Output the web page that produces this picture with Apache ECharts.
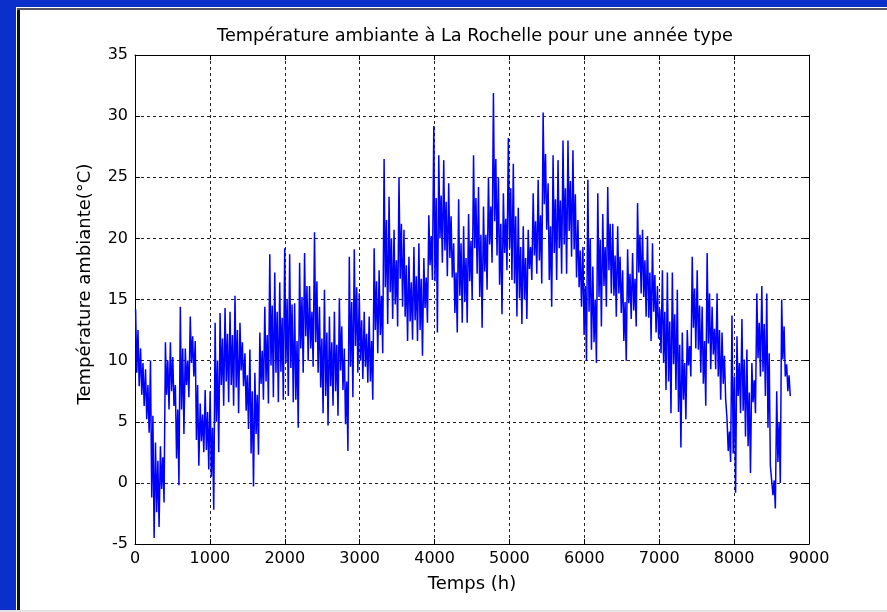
<!DOCTYPE html>
<html>
<head>
<meta charset="utf-8">
<script src="https://cdn.jsdelivr.net/npm/echarts@6/dist/echarts.min.js"></script>
<style>
html,body{margin:0;padding:0;background:#fff;}
#chart{width:887px;height:612px;}
</style>
</head>
<body>
<div id="chart"></div>
<script>
// Read per ~66 h window: extreme high, extreme low, and a secondary high/low inside the window
const hiA = [14.2,11,9.3,10,3.3,3,11.5,11.5,8,14.4,11,13.6,11.6,6.5,7.6,7.5,13.1,13.9,14.3,14,15.3,13.1,10.6,10.9,9,12.3,14.4,18.7,17.2,16.4,19.2,18.7,14.7,18,18.8,16.1,20.5,14.4,15.8,13.6,14,15.1,11,18.5,19.1,15.5,14,13.6,19.2,17.4,26.5,23.4,20.7,25,20.7,18.5,19.3,19.6,18.4,21.9,29.2,26.8,26.4,24.5,19.6,23.2,21,22,26.8,24.2,22.6,25,31.9,25,23.7,28.2,26.1,22.5,21,20.7,23.7,24.8,30.3,24.5,26.8,26.4,28,28,27.2,21.5,19.3,24.8,17.7,23.7,22,24.2,21.2,21,17.4,19.1,18.8,22.9,20.7,20.2,19.6,16.1,17.4,17.2,17.2,15.8,12.3,12.5,18.5,17.4,14.4,18.8,14.4,15.5,12.3,5.2,13.7,12,13.4,10.9,9.8,15.5,16.1,15.5,1.4,7.5,15,9.7];
const loA = [7.9,6.3,4.1,-4.5,-3.6,-1.6,6,6.3,-0.2,4,7,8.7,1.4,2.5,1.1,-2.2,2.5,6.3,6.6,6.3,5.7,7.9,4.4,-0.3,2.3,6.8,6.5,7,6.6,6.8,7.1,6.6,4.5,9,10,9.5,9,5.7,4.7,6.3,5.5,7.6,2.6,7,9,8.5,8.2,6.8,10.6,10.6,13,13.4,12.8,14.4,11.6,11.7,11.6,10.4,13.1,16.6,12.3,18,16.9,16.8,12.3,13.1,13.1,15,17.1,12.7,15.8,18,18.6,13.8,17.4,16.6,13.6,13,13.4,16.6,17.1,16.3,20.7,14.4,16.6,17.1,17.1,18.5,16.8,14.4,10,10.9,9.8,12.8,14.4,15.5,13.6,13.9,10,13.4,12.8,15.5,13.6,11.6,12.3,10.6,7.6,5.7,7.6,2.9,5.2,8.7,11,9,6.3,9.3,9.3,6.8,6.9,1.7,-0.8,5.7,3.8,0.8,5.7,8.7,7.1,1.4,-2.1,0,8.7,7.1];
const hiB = [12.5,9.8,8,5.5,1.8,2.1,10,10.3,6,11,10,12,8,5.6,5.8,4.5,10,11.8,12.2,12.1,12.5,11.5,8.8,7.5,7.2,10.8,12.1,14.5,14,13.5,15,14.6,11.6,15.2,16.1,14,16.5,11.8,12.3,11.5,11.3,12.8,8.3,14.8,16,13.3,12.2,11.6,16.5,15.3,21.5,20,18.2,21.2,17.8,16.4,16.9,16.7,16.8,20.2,23.3,23.5,23,21.8,17.2,19.6,18.4,19.8,23.3,20.3,20.3,22.6,26.5,21.2,21.6,24.1,21.8,19.3,18.4,19.3,21.4,21.9,26.9,21,23.2,23.1,24.1,24.7,23.6,19,16.1,20,15,19.9,19.3,21.2,18.6,18.5,14.8,17.1,16.7,20.3,18.2,17.2,17,14.2,14,13.2,13.8,11.3,9.8,11.2,15.9,14.5,11.6,15.5,12.6,12.5,10.4,4.2,8.7,9.8,10.1,7.4,8.4,13.1,13,10.6,0.2,4.9,12.8,8.8];
const loB = [9,7.2,5.2,-1.2,-2.4,-0.5,7.2,7.5,2,6,8,9.8,3.5,3.4,2.7,0.5,5,8,8.3,8,7.8,9.2,5.9,2.4,4,8.1,8.3,9.6,9,9.1,9.8,9.4,6.8,11,12,11,11.5,7.8,7.1,7.9,7.5,9.2,4.8,9.5,11.2,10,9.5,8.3,12.5,12.1,16,15.6,14.6,16.7,13.6,13.2,13.3,12.5,14.3,17.8,16.5,20,19,18.4,13.9,15.3,14.8,16.5,19.2,15.2,17.3,19.5,21.4,16.2,18.8,19.2,16.3,15.1,15,17.5,18.6,18.2,22.8,16.6,18.8,19.2,19.5,20.6,19.1,16,12.1,14,11.5,15.2,16.1,17.4,15.3,15.5,11.6,14.7,14.1,17.2,15.2,13.5,14,11.8,9.8,8.3,9.7,5.8,6.8,9.6,12.7,10.9,8.1,11.4,10.5,8.7,8.1,2.6,2.4,7.1,5.9,3,6.6,10.2,9.1,4.5,-1,1.7,10.1,7.5];

const xTicks = [0,1000,2000,3000,4000,5000,6000,7000,8000,9000];
const yTicks = [-5,0,5,10,15,20,25,30,35];
const titleText = 'Température ambiante à La Rochelle pour une année type';
const xName = 'Temps (h)';
const yName = 'Température ambiante(°C)';

const windowHours = 8760 / hiA.length;
const series = [];
for (let i = 0; i < hiA.length; i++) {
  const t0 = i * windowHours;
  series.push([t0 + 8, hiA[i]]);
  series.push([t0 + 24, loB[i]]);
  series.push([t0 + 40, hiB[i]]);
  series.push([t0 + 56, loA[i]]);
}

const FONT = 'DejaVu Sans';
const chart = echarts.init(document.getElementById('chart'), null, {renderer: 'canvas'});
const axisCommon = {
  type: 'value',
  axisLine: {show: true, onZero: false, lineStyle: {color: '#000', width: 1}},
  axisTick: {show: true, inside: true, length: 5, lineStyle: {color: '#000'}},
};
chart.setOption({
  animation: false,
  backgroundColor: '#fff',
  title: {
    text: titleText,
    left: 470,
    top: 22,
    textAlign: 'center',
    textStyle: {fontFamily: FONT, fontSize: 17.7, fontWeight: 'normal', color: '#000'}
  },
  grid: {left: 135, right: 78, top: 55, bottom: 68, containLabel: false},
  xAxis: [
    Object.assign({}, axisCommon, {
      min: xTicks[0], max: xTicks[xTicks.length - 1], interval: 1000,
      position: 'bottom',
      name: xName, nameLocation: 'middle', nameGap: 31,
      nameTextStyle: {fontFamily: FONT, fontSize: 18, color: '#000'},
      axisLabel: {fontFamily: FONT, fontSize: 16, color: '#000', margin: 7, formatter: v => String(v)},
      splitLine: {show: true, lineStyle: {color: '#222', type: [3, 3], width: 1}}
    }),
    Object.assign({}, axisCommon, {
      min: xTicks[0], max: xTicks[xTicks.length - 1], interval: 1000,
      position: 'top',
      axisLabel: {show: false}, splitLine: {show: false}
    })
  ],
  yAxis: [
    Object.assign({}, axisCommon, {
      min: yTicks[0], max: yTicks[yTicks.length - 1], interval: 5,
      position: 'left',
      axisLabel: {fontFamily: FONT, fontSize: 16, color: '#000', margin: 7, formatter: v => String(v)},
      splitLine: {show: true, lineStyle: {color: '#222', type: [3, 3], width: 1}}
    }),
    Object.assign({}, axisCommon, {
      min: yTicks[0], max: yTicks[yTicks.length - 1], interval: 5,
      position: 'right',
      axisLabel: {show: false}, splitLine: {show: false}
    })
  ],
  graphic: [
    {type: 'rect', shape: {x: 0, y: 0, width: 16, height: 612}, style: {fill: '#0a2fcb'}, silent: true},
    {type: 'rect', shape: {x: 0, y: 0, width: 887, height: 7}, style: {fill: '#0a2fcb'}, silent: true},
    {type: 'rect', shape: {x: 17, y: 8, width: 3, height: 604}, style: {fill: '#111'}, silent: true},
    {type: 'rect', shape: {x: 17, y: 8, width: 870, height: 2}, style: {fill: '#556'}, silent: true},
    {type: 'rect', shape: {x: 0, y: 610, width: 887, height: 2}, style: {fill: '#e4e4e4'}, silent: true},
    {type: 'text', x: 85, y: 284, rotation: Math.PI / 2, silent: true,
     style: {text: yName, fontFamily: FONT, fontSize: 18, fill: '#000', align: 'center', verticalAlign: 'middle'}}
  ],
  series: [{
    type: 'line',
    data: series,
    showSymbol: false,
    symbol: 'none',
    sampling: null,
    lineStyle: {color: '#0000ff', width: 1.5},
    xAxisIndex: 0,
    yAxisIndex: 0
  }]
});
</script>
</body>
</html>
